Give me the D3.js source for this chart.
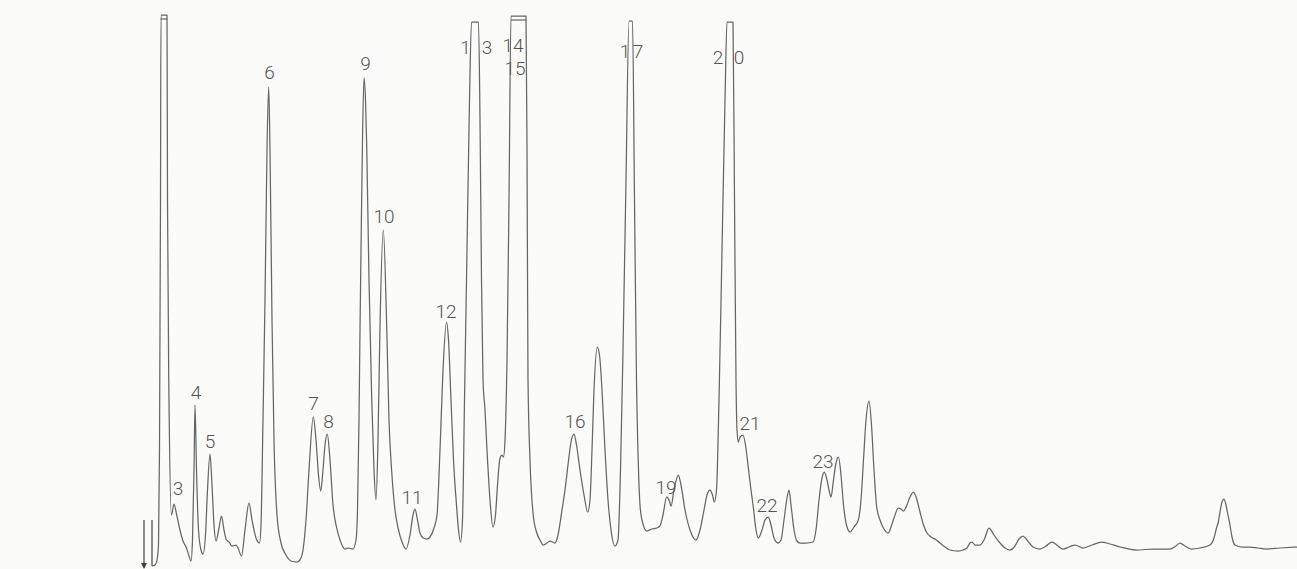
<!DOCTYPE html>
<html>
<head>
<meta charset="utf-8">
<script src="https://cdn.jsdelivr.net/npm/d3@7"></script>
<style>
    html, body { margin: 0; padding: 0; background: #fbfbf9; }
    #plot { width: 1297px; height: 569px; }
</style>
</head>
<body>
<div id="plot"></div>
<script>
// detector trace (time in chart units, signal = pen deflection)
const traceTime = [
    152, 155, 157, 158.5, 159.5, 160.5, 161, 167, 167.5, 169, 171.5, 174, 176.5, 180, 183, 186.5, 189, 191,
    192.5, 194, 195, 196.5, 198.5, 201, 203, 205.5, 207.5, 210, 212, 214, 216,
    219, 221.5, 224, 226.5, 229, 232, 236, 238, 241.5, 245, 249, 252, 256, 259.5,
    261, 263, 265, 267, 268.7, 270, 272, 274, 277, 281, 286, 291, 297, 301,
    303, 306, 309, 313.3, 316, 318.5, 320.7, 323, 325, 327.3, 330, 333, 336.5, 340, 345, 348, 353, 356,
    357.5, 359, 360, 361, 362.5, 364, 365.5, 366.7, 369, 371.7, 374, 376,
    378, 380, 383.3, 386.7, 389, 391.7, 395, 398.3, 402, 406,
    410, 413, 415, 417.5, 420, 423.3, 427, 430, 434, 437,
    440, 443, 446.5, 448.5, 451, 453.5, 456.5, 458.5, 460.5,
    462.5, 464.5, 467, 469.5, 471.5, 478.5, 480, 481.5, 483, 485, 487, 490, 493,
    495.5, 497.5, 500, 502, 503.5, 505, 507, 509, 511, 526, 527, 528, 530, 533, 536.5, 540, 543.3, 547, 550, 555,
    558, 562, 565, 568, 571, 574, 576.5, 580, 584, 587.7,
    590, 592, 594, 597.3, 599.5, 602, 605, 608, 611, 615,
    618, 620.5, 623, 626, 629, 632.5, 634.5, 636.5, 638.5, 640, 642, 646.7, 652, 656.7, 660,
    663, 666.7, 669, 671, 674, 678.3, 681, 685, 690, 696,
    700, 704, 707, 710, 712.5, 714.3, 716.5, 719, 722, 725, 727, 733, 734.5, 736, 737,
    738.3, 740, 743, 745.5, 748, 751, 753.3, 756, 758.3,
    762, 765, 768.3, 771, 774, 778, 781, 784, 787, 789, 791, 794, 797, 800, 806, 813,
    816, 819, 822, 824.3, 827, 829, 831, 833.5, 836, 838.5, 841, 843.5, 846.5, 850, 854, 858.3,
    861, 863.5, 866, 869, 871.5, 874, 876.7, 880, 884, 888.3,
    891, 894, 898.3, 901, 903.5, 907, 910, 913.5, 917, 920, 923.5, 927, 931, 936.5, 940,
    945, 950, 958, 963, 967, 970, 972, 975, 980, 984, 989, 994, 1000, 1005, 1010,
    1015, 1019, 1023, 1027, 1033, 1040, 1046, 1052, 1058, 1063, 1069, 1075, 1083, 1092, 1101.5,
    1110, 1120, 1136.5, 1153, 1170, 1176, 1180, 1185, 1191.5, 1200, 1210,
    1214, 1216.5, 1218.3, 1220, 1222, 1224, 1226, 1228, 1230, 1232, 1235,
    1242, 1250, 1258, 1266.5, 1280, 1297
];
const traceSignal = [
    3, 4, 9, 24, 119, 369, 554, 554, 369, 169, 54, 65, 55, 39, 28, 21, 13, 8,
    29, 99, 164, 99, 39, 19, 15, 34, 79, 115, 84, 44, 28,
    41, 53, 39, 29, 27, 23, 24, 21, 13, 39, 66, 49, 31, 26,
    44, 149, 269, 419, 482, 419, 249, 129, 54, 26, 14, 8, 7, 11,
    19, 49, 99, 152, 129, 94, 78, 99, 124, 135, 109, 64, 42, 29, 20, 21, 20, 29,
    59, 149, 239, 319, 429, 491, 469, 424, 289, 171, 99, 69,
    129, 243, 339, 243, 149, 98, 59, 40, 27, 20,
    34, 54, 60, 49, 36, 31, 30, 32, 41, 54,
    119, 199, 247, 229, 169, 109, 64, 39, 27,
    49, 169, 319, 469, 547, 547, 449, 289, 189, 159, 119, 69, 42,
    54, 84, 111, 114, 112, 129, 209, 369, 553, 553, 419, 189, 109, 56, 37, 29, 24, 26, 28, 26,
    34, 59, 79, 104, 127, 135, 124, 99, 74, 57,
    69, 119, 179, 222, 214, 179, 119, 69, 39, 23,
    29, 99, 219, 389, 548, 548, 369, 189, 99, 64, 49, 38, 40, 41, 43,
    54, 72, 69, 63, 79, 94, 84, 59, 39, 29,
    39, 59, 74, 79, 74, 67, 79, 169, 319, 469, 547, 547, 369, 189, 139,
    127, 132, 134, 124, 104, 79, 62, 39, 31,
    39, 49, 52, 44, 31, 26, 29, 49, 71, 79, 64, 39, 28, 26, 26, 27,
    39, 69, 91, 97, 89, 79, 72, 89, 106, 112, 94, 64, 44, 37, 42, 49,
    69, 109, 149, 168, 144, 99, 62, 49, 40, 36,
    42, 51, 61, 60, 58, 64, 72, 77, 69, 57, 44, 36, 32, 29, 26,
    22, 19, 18, 19, 21, 26, 27, 24, 24, 29, 41, 34, 26, 21, 19,
    23, 30, 33, 29, 22, 20, 23, 27, 23, 20, 22, 24, 21, 24, 27,
    25, 22, 19, 20, 20, 23, 26, 23, 20, 21, 24,
    31, 41, 47, 57, 67, 70, 64, 54, 44, 32, 24,
    22, 22, 21, 20, 21, 22
];

// pen hit the top of the chart on these peaks: second stroke just under the flat top
const cappedFrom = [160.5, 511];
const cappedTo = [167.3, 526];
const cappedLevel = [550, 549];

// injection marks at the start of the run
const injectionMarks = [144, 152];

// hand-written peak numbers (split numbers straddle their peak)
const labelText = ["3", "4", "5", "6", "7", "8", "9", "10", "11", "12", "1", "3", "14", "15",
    "16", "1", "7", "19", "2", "0", "21", "22", "23"];
const labelTime = [178, 196, 210, 269.5, 313.5, 328.5, 365.5, 384, 412, 446, 465.5, 487, 513, 515,
    575, 625, 638, 666, 718, 739, 750, 767, 823];
const labelSignal = [81, 177, 128, 497, 166, 148, 506, 353, 72, 258, 522, 522, 524, 501,
    148, 518, 518, 82, 512, 512, 146, 64, 108];


class ChromatogramPlot {
    constructor(options) {
        this.options = options;
    }

    render(div) {
        this.plot_div = d3.select(div);
        this.build_plot();
    }

    build_scales() {
        const {width, height} = this.options;
        this.x = d3.scaleLinear()
            .domain([0, width])
            .range([0, width]);
        this.y = d3.scaleLinear()
            .domain([0, height])
            .range([height, 0]);
    }

    build_trace() {
        const points = traceTime.map((t, i) => [t, traceSignal[i]]);
        const line = d3.line()
            .x(d => this.x(d[0]))
            .y(d => this.y(d[1]))
            .curve(d3.curveMonotoneX);

        this.vis.append("path")
            .datum(points)
            .attr("fill", "none")
            .attr("stroke", "#666")
            .attr("stroke-width", 1.25)
            .attr("stroke-linejoin", "round")
            .attr("d", line);

        // caps on the clipped peaks
        this.vis.selectAll("line.cap")
            .data(cappedFrom)
            .join("line")
            .attr("class", "cap")
            .attr("x1", (d, i) => this.x(d))
            .attr("x2", (d, i) => this.x(cappedTo[i]))
            .attr("y1", (d, i) => this.y(cappedLevel[i]))
            .attr("y2", (d, i) => this.y(cappedLevel[i]))
            .attr("stroke", "#666")
            .attr("stroke-width", 1.2);
    }

    build_marks() {
        this.vis.selectAll("line.inject")
            .data(injectionMarks)
            .join("line")
            .attr("class", "inject")
            .attr("x1", d => this.x(d))
            .attr("x2", d => this.x(d))
            .attr("y1", this.y(49))
            .attr("y2", this.y(3))
            .attr("stroke", "#505050")
            .attr("stroke-width", 1.3);

        // little arrow head under the first mark
        const x0 = this.x(injectionMarks[0]);
        const y0 = this.y(6);
        this.vis.append("path")
            .attr("d", `M${x0 - 3},${y0} L${x0 + 3},${y0} L${x0},${y0 + 6} Z`)
            .attr("fill", "#404040");
    }

    build_labels() {
        this.vis.selectAll("text.peak")
            .data(labelText)
            .join("text")
            .attr("class", "peak")
            .attr("x", (d, i) => this.x(labelTime[i]))
            .attr("y", (d, i) => this.y(labelSignal[i]))
            .attr("text-anchor", "middle")
            .attr("dominant-baseline", "central")
            .attr("font-family", "Roboto, Liberation Sans, Arial, sans-serif")
            .attr("font-weight", 300)
            .attr("font-size", 19)
            .attr("fill", "#555")
            .text(d => d);
    }

    build_plot() {
        const {width, height} = this.options;
        this.plot_div.selectAll("*").remove();
        this.svg = this.plot_div
            .append("svg")
            .attr("role", "image")
            .attr("aria-label", "A gas chromatogram with numbered peaks.")
            .attr("width", width)
            .attr("height", height)
            .node();
        this.vis = d3.select(this.svg).append("g");

        this.vis.append("rect")
            .attr("width", width)
            .attr("height", height)
            .attr("fill", "#fbfbf9");

        this.build_scales();
        this.build_trace();
        this.build_marks();
        this.build_labels();
    }
}

const plot = new ChromatogramPlot({width: 1297, height: 569});
plot.render("#plot");
</script>
</body>
</html>
